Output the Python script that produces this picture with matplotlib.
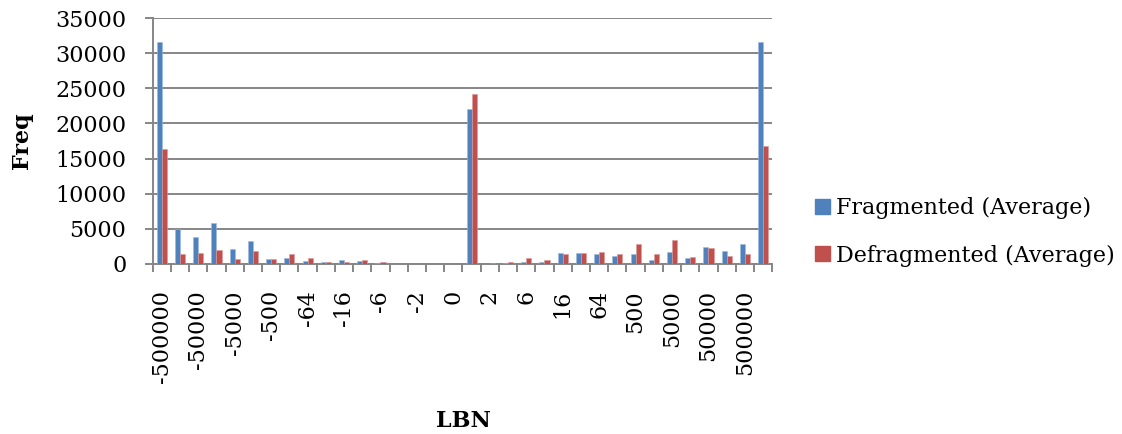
import numpy as np
import matplotlib
matplotlib.use('Agg')
import matplotlib.pyplot as plt
from matplotlib.patches import Patch

# LBN distance bins (every second one gets a visible label)
bins = ['-500000', '-100000', '-50000', '-10000', '-5000', '-1000', '-500', '-128',
        '-64', '-32', '-16', '-8', '-6', '-4', '-2', '-1', '0', '1', '2', '4', '6',
        '8', '16', '32', '64', '128', '500', '1000', '5000', '10000', '50000',
        '100000', '500000', 'More']

fragmented = [31680, 4890, 3800, 5800, 2140, 3230, 620, 860, 380, 190, 480, 330,
              100, 0, 0, 0, 0, 22130, 20, 30, 290, 290, 1570, 1570, 1380, 1050,
              1380, 480, 1660, 760, 2380, 1850, 2850, 31590]
defragmented = [16340, 1330, 1570, 1950, 620, 1760, 620, 1330, 860, 290, 290, 480,
                190, 0, 0, 0, 0, 24270, 60, 290, 860, 480, 1380, 1470, 1620, 1330,
                2850, 1330, 3330, 950, 2190, 1050, 1330, 16820]

blue = '#4F81BD'
red = '#C0504D'
grid_col = '#868686'

plt.rcParams['font.family'] = ['DejaVu Serif']

fig = plt.figure(figsize=(11.22, 4.34), dpi=100)
ax = fig.add_axes([0.1361, 0.3924, 0.5522, 0.5654])

x = np.arange(len(bins))
w = 1 / 1.8 / 2  # Excel style gap width of 80%
ax.bar(x - w / 2, fragmented, w, color=blue, edgecolor='#9DB8DA', linewidth=0.4,
       label='Fragmented (Average)', zorder=3)
ax.bar(x + w / 2, defragmented, w, color=red, edgecolor='#DB9A98', linewidth=0.4,
       label='Defragmented (Average)', zorder=3)

ax.set_xlim(-0.5, len(bins) - 0.5)
ax.set_ylim(0, 35000)
ax.set_yticks(np.arange(0, 35001, 5000))
ax.yaxis.grid(True, color=grid_col, linewidth=1.4, zorder=0)
ax.tick_params(axis='y', length=6, width=1.4, color=grid_col, pad=13, labelsize=16)

# labels sit at every other bin centre, tick marks between bins
ax.set_xticks(x[::2])
ax.set_xticklabels(bins[::2], rotation=90, fontsize=16, va='top')
ax.set_xticks(np.arange(len(bins) + 1) - 0.5, minor=True)
ax.tick_params(axis='x', which='major', length=0, pad=19)
ax.tick_params(axis='x', which='minor', length=6, width=1.4, color=grid_col)

for s in ['top', 'right']:
    ax.spines[s].set_visible(False)
for s in ['left', 'bottom']:
    ax.spines[s].set_color(grid_col)
    ax.spines[s].set_linewidth(1.4)

fig.text(0.020, 0.675, 'Freq', rotation=90, fontsize=16, fontweight='bold',
         ha='center', va='center')
fig.text(0.413, 0.030, 'LBN', fontsize=16, fontweight='bold', ha='center',
         va='center')

handles = [Patch(color=blue, label='Fragmented (Average)'),
           Patch(color=red, label='Defragmented (Average)')]
fig.legend(handles=handles, loc='center left', bbox_to_anchor=(0.726, 0.466),
           frameon=False, fontsize=16, handlelength=0.68, handleheight=0.68,
           handletextpad=0.3, labelspacing=1.15, borderpad=0, borderaxespad=0)

fig.savefig('out.png', dpi=100)
